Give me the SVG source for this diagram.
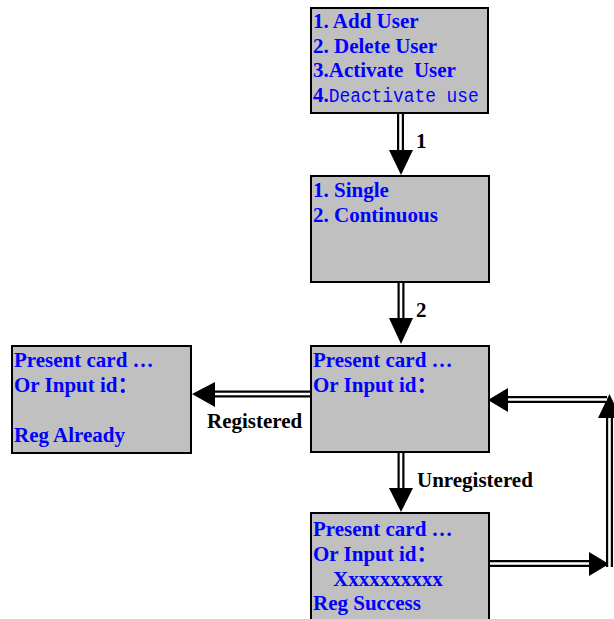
<svg xmlns="http://www.w3.org/2000/svg" width="614" height="619" viewBox="0 0 614 619">
<style>
.box{fill:#c0c0c0;stroke:#000;stroke-width:2}
.t{font-family:"Liberation Serif","Noto Sans CJK SC",serif;font-weight:bold;font-size:21px;fill:#0000ff}
.m{font-family:"Liberation Mono","Noto Sans CJK SC",monospace;font-weight:normal;font-size:19.5px;fill:#0000ff}
.lbl{font-family:"Liberation Serif",serif;font-weight:bold;font-size:21px;fill:#000}
.o{fill:none;stroke:#000;stroke-width:7}
.i{fill:none;stroke:#fff;stroke-width:2.6}
.h{fill:#000}
</style>
<rect width="614" height="619" fill="#fff"/>
<g id="connectors">
  <path class="o" d="M400.5 113V152"/><path class="i" d="M400.5 113V152"/>
  <polygon class="h" points="389,150 413,150 401,175"/>
  <path class="o" d="M401 282V320"/><path class="i" d="M401 282V320"/>
  <polygon class="h" points="389,318 413,318 401,344"/>
  <path class="o" d="M401 452V490"/><path class="i" d="M401 452V490"/>
  <polygon class="h" points="389,488 413,488 401,512"/>
  <path class="o" d="M311 394H213"/><path class="i" d="M311 394H213"/>
  <polygon class="h" points="215,382 215,407 192,394"/>
  <path class="o" d="M489 563.5H592"/><path class="i" d="M489 563.5H592"/>
  <polygon class="h" points="589,552 589,576 609,564"/>
  <path class="o" d="M609.5 567V415"/><path class="i" d="M609.5 567V415"/>
  <polygon class="h" points="598,418 621,418 609.5,394"/>
  <path class="o" d="M607 399.5H505"/><path class="i" d="M607 399.5H505"/>
  <polygon class="h" points="508,388 508,412 488,400"/>
  <text class="lbl" x="416" y="148">1</text>
  <text class="lbl" x="416" y="317">2</text>
  <text class="lbl" x="207" y="428">Registered</text>
  <text class="lbl" x="417" y="487">Unregistered</text>
</g>
<g id="menu">
  <rect class="box" x="311" y="8" width="177" height="105"/>
  <text class="t" x="313" y="28">1. Add User</text>
  <text class="t" x="313" y="53">2. Delete User</text>
  <text class="t" x="313" y="77" xml:space="preserve">3.Activate  User</text>
  <text class="t" x="313" y="102">4.<tspan class="m" textLength="150" lengthAdjust="spacingAndGlyphs">Deactivate use</tspan></text>
</g>
<g id="mode">
  <rect class="box" x="311" y="176" width="178" height="106"/>
  <text class="t" x="313" y="197">1. Single</text>
  <text class="t" x="313" y="222">2. Continuous</text>
</g>
<g id="present">
  <rect class="box" x="311" y="346" width="178" height="106"/>
  <text class="t" x="313" y="367">Present card …</text>
  <text class="t" x="313" y="392">Or Input id：</text>
</g>
<g id="already">
  <rect class="box" x="12" y="346" width="179" height="107"/>
  <text class="t" x="14" y="367">Present card …</text>
  <text class="t" x="14" y="392">Or Input id：</text>
  <text class="t" x="14" y="442">Reg Already</text>
</g>
<g id="success">
  <rect class="box" x="311" y="513" width="178" height="120"/>
  <text class="t" x="313" y="536">Present card …</text>
  <text class="t" x="313" y="560.5">Or Input id：</text>
  <text class="t" x="333" y="586">Xxxxxxxxxx</text>
  <text class="t" x="313" y="610">Reg Success</text>
</g>
</svg>
